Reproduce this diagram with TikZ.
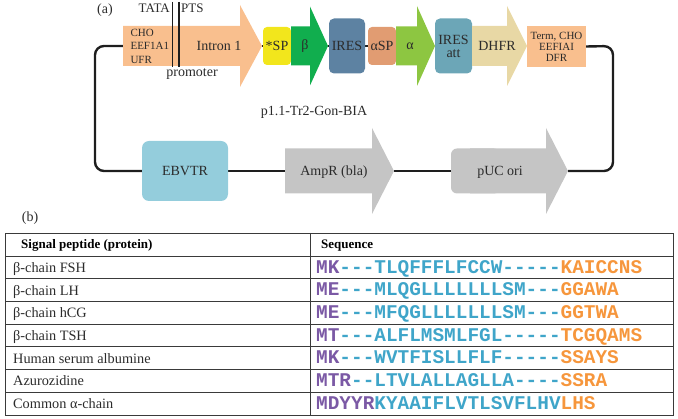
\documentclass[tikz,border=0pt]{standalone}
\usepackage{fontspec}
\setmainfont{Liberation Serif}
\newfontfamily\seqmono{Liberation Mono}
\usetikzlibrary{backgrounds}
\definecolor{ink}{HTML}{2B2B2B}
\definecolor{bb}{HTML}{1E1E1E}
\definecolor{rulec}{HTML}{3A3A3A}
\definecolor{intronc}{HTML}{F9BF8E}
\definecolor{spc}{HTML}{F2E61C}
\definecolor{betac}{HTML}{11AE4E}
\definecolor{iresc}{HTML}{5D82A2}
\definecolor{aspc}{HTML}{E19C72}
\definecolor{alphac}{HTML}{8DC641}
\definecolor{attc}{HTML}{6CA6B7}
\definecolor{dhfrc}{HTML}{E8D8A5}
\definecolor{ebvc}{HTML}{94CDDC}
\definecolor{greyc}{HTML}{C5C5C5}
\definecolor{seqpre}{HTML}{7B59A5}
\definecolor{seqcore}{HTML}{3FA5C9}
\definecolor{seqpost}{HTML}{F6963C}

% gene arrow: name, left, base, tip, y, half body, half head, colour
\newcommand{\genearrow}[8]{%
  \fill[#8] (#2,#5-#6) -- (#3,#5-#6) -- (#3,#5-#7) -- (#4,#5) -- (#3,#5+#7) -- (#3,#5+#6) -- (#2,#5+#6) -- cycle;
  \coordinate (#1-tail) at (#2,#5);
  \coordinate (#1-tip) at (#4,#5);
}

\begin{document}
\begin{tikzpicture}[x=1pt,y=-1pt,
  lbl/.style={font=\fontsize{14}{16}\selectfont, text=ink},
  small/.style={font=\fontsize{11}{13.5}\selectfont, text=ink},
  box/.style={lbl, rounded corners=4pt, inner sep=0pt, align=center},
  backbone/.style={line width=2.4pt, draw=bb, rounded corners=9pt},
  rule/.style={draw=rulec, line width=0.9pt},
  rowtxt/.style={font=\fontsize{14.3}{16}\selectfont, text=ink, anchor=base west, inner sep=0pt},
  headtxt/.style={font=\fontsize{13}{15}\selectfont\bfseries, text=black, anchor=base west, inner sep=0pt},
  seq/.style={font=\fontsize{19.4}{20}\selectfont\seqmono\bfseries, anchor=base west, inner sep=0pt}]
  \useasboundingbox (0,0) rectangle (678,419);

  % (a) plasmid map
  \node[lbl] (taga) at (105,10) {(a)};

  % expression cassette
  \genearrow{intron}{123}{240}{262}{46}{20}{41}{intronc}
  \node[small, align=left, anchor=west] (ufr) at (127,46) {CHO\\EEF1A1\\UFR};
  \node[lbl] (intronlbl) at (219,46) {Intron 1};
  \draw[line width=1.3pt, bb] (172.5,2) -- (172.5,67);
  \draw[line width=1.3pt, bb] (179,2) -- (179,67);
  \node[small, font=\fontsize{13}{15}\selectfont, anchor=base east, inner sep=1pt] (tata) at (171,12.5) {TATA};
  \node[small, font=\fontsize{13}{15}\selectfont, anchor=base west, inner sep=1pt] (pts) at (180,12.5) {PTS};
  \node[lbl] (prom) at (192,74) {promoter};

  \node[box, fill=spc, minimum width=28, minimum height=38] (sp) at (277,46) {*SP};
  \genearrow{beta}{291}{310}{328}{46}{19.5}{39.5}{betac}
  \node[lbl] (betalbl) at (305,46) {β};
  \node[box, fill=iresc, minimum width=36, minimum height=55, rounded corners=5pt] (ires) at (347,46) {IRES};
  \node[box, fill=aspc, minimum width=28, minimum height=38] (asp) at (382,46) {αSP};
  \genearrow{alpha}{396}{417}{435}{46}{19.5}{40}{alphac}
  \node[lbl] (alphalbl) at (410,46) {α};
  \node[box, fill=attc, minimum width=37, minimum height=55, rounded corners=5pt,
        font=\fontsize{14}{13}\selectfont] (att) at (453.5,46) {IRES\\att};
  \genearrow{dhfr}{472}{507}{527}{46}{20}{40}{dhfrc}
  \node[lbl] (dhfrlbl) at (497,46) {DHFR};
  \node[fill=intronc, minimum width=59, minimum height=41, inner sep=0pt, align=center,
        text=ink, font=\fontsize{11}{11}\selectfont] (term) at (556.5,46.5) {Term, CHO\\EEFIAI\\DFR};

  \node[lbl] (pname) at (314,112) {p1.1-Tr2-Gon-BIA};

  % backbone elements
  \node[box, fill=ebvc, minimum width=86, minimum height=60, rounded corners=7pt] (ebv) at (185,171) {EBVTR};
  \genearrow{amp}{285}{372}{394}{171}{22.5}{43}{greyc}
  \node[lbl] (amplbl) at (334,172) {AmpR (bla)};
  \fill[greyc, rounded corners=6pt] (451,148.5) rectangle (500,193.5);
  \genearrow{puc}{470}{546}{568}{171}{22.5}{43}{greyc}
  \node[lbl] (puclbl) at (500,172) {pUC ori};

  \begin{pgfonlayer}{background}
    \coordinate (lturn) at (95,46);
    \coordinate (rturn) at (613,46);
    \draw[backbone] (intron-tail) -- (lturn) |- (ebv.west);
    \draw[backbone] (ebv.east) -- (amp-tail);
    \draw[backbone] (amp-tip) -- (puc-tail);
    \draw[backbone] (puc-tip) -| (rturn) -- (term.east);
    \draw[backbone] (intron-tip) -- (sp.west);
    \draw[backbone] (beta-tip) -- (ires.west);
    \draw[backbone] (ires.east) -- (asp.west);
  \end{pgfonlayer}

  % (b) signal peptides
  \node[lbl] (tagb) at (30,218) {(b)};
  \draw[rule] (5,233) rectangle (673,415);
  \draw[rule] (310,233) -- (310,415);
  \foreach \k in {0,...,6}
    \draw[rule] (5,{256+22.7*\k}) -- (673,{256+22.7*\k});
  \node[headtxt] (hpep) at (21,249) {Signal peptide (protein)};
  \node[headtxt] (hseq) at (321,249) {Sequence};
  \foreach \pep/\pre/\core/\post [count=\i] in {
      β-chain FSH/MK/---TLQFFFLFCCW-----/KAICCNS,
      β-chain LH/ME/---MLQGLLLLLLLSM---/GGAWA,
      β-chain hCG/ME/---MFQGLLLLLLLSM---/GGTWA,
      β-chain TSH/MT/---ALFLMSMLFGL-----/TCGQAMS,
      Human serum albumine/MK/---WVTFISLLFLF-----/SSAYS,
      Azurozidine/MTR/--LTVLALLAGLLA----/SSRA,
      Common α-chain/MDYYR/KYAAIFLVTLSVFLHV/LHS} {
    \node[rowtxt] (pep\i) at (13,{267.35+22.7*(\i-1)+5}) {\pep};
    \node[seq] (seq\i) at (316,{267.35+22.7*(\i-1)+5.7})
      {\textcolor{seqpre}{\pre}\textcolor{seqcore}{\core}\textcolor{seqpost}{\post}};
  }
\end{tikzpicture}
\end{document}
